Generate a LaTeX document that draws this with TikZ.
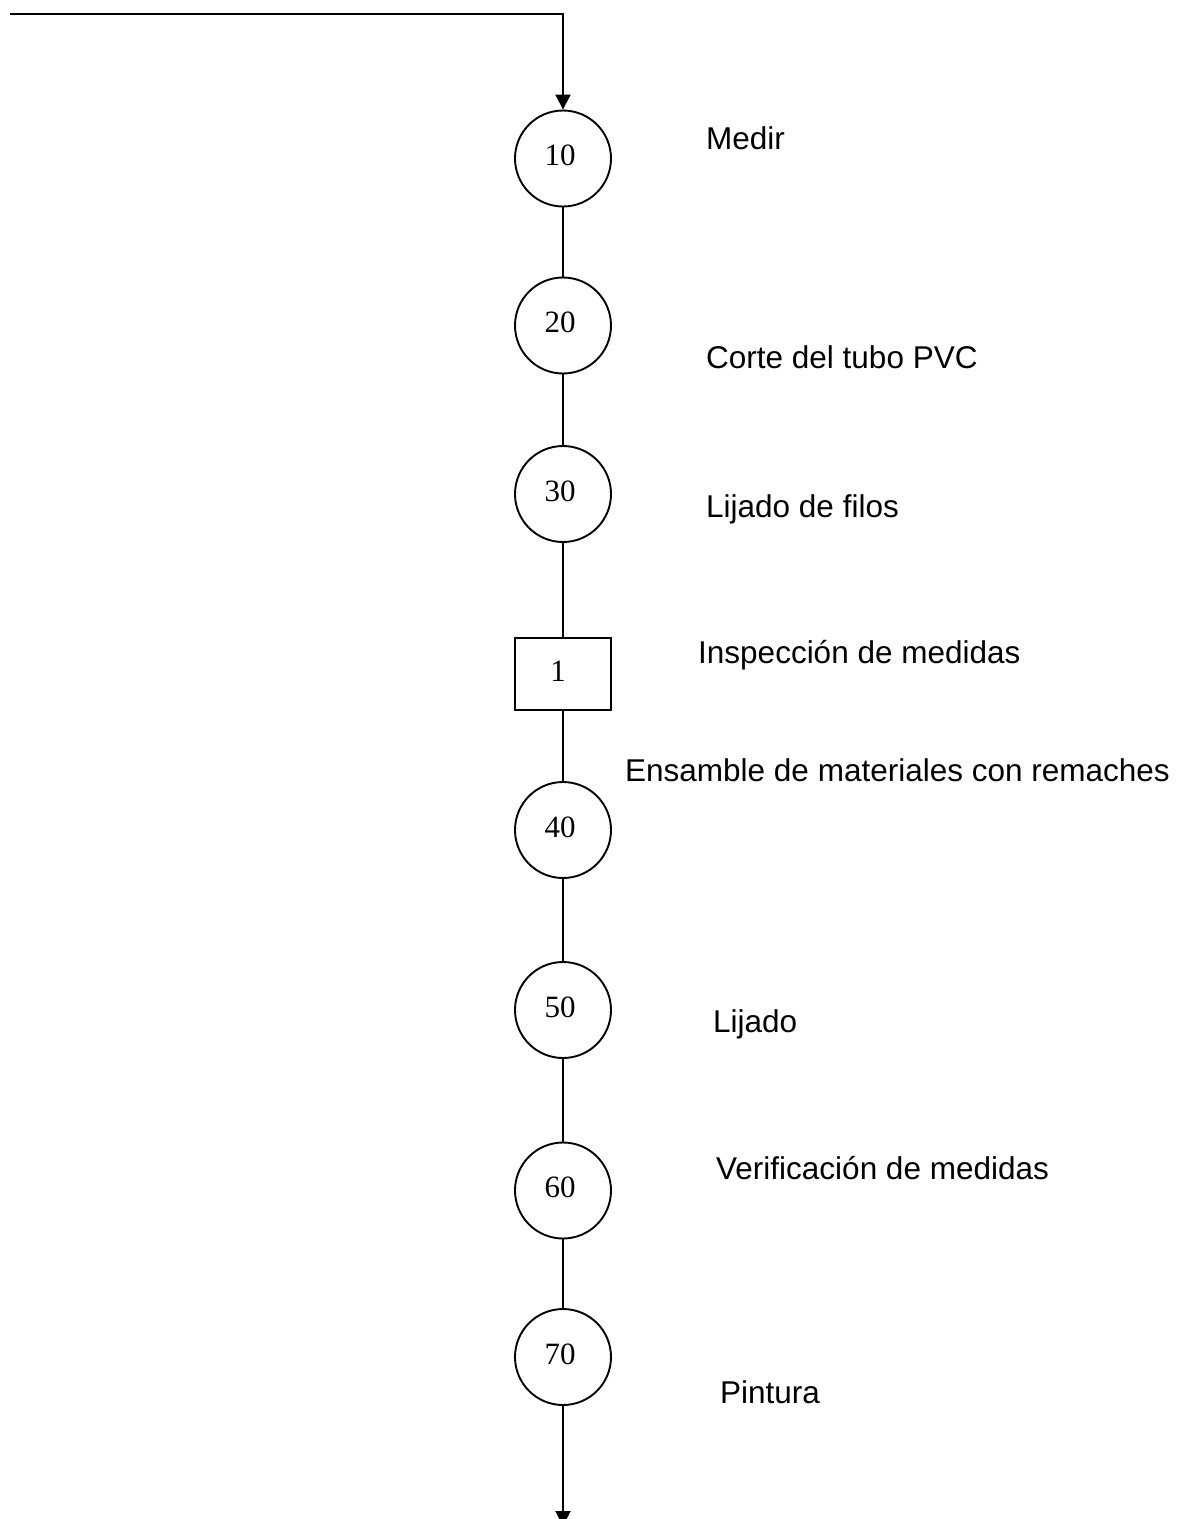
\documentclass[tikz,border=0pt]{standalone}
\usepackage{fontspec}
\setmainfont{Liberation Sans}
\newfontfamily\numfont{Liberation Serif}
\usetikzlibrary{arrows.meta}

\begin{document}
\begin{tikzpicture}[x=1pt,y=-1pt,
  flow/.style={line width=1.9pt,black},
  opcircle/.style={circle,draw,line width=1.9pt,minimum size=96pt,inner sep=0pt},
  inspbox/.style={rectangle,draw,line width=1.9pt,minimum width=96pt,minimum height=72pt,inner sep=0pt},
  numtext/.style={anchor=base,inner sep=0pt,font=\numfont\fontsize{31}{37}\selectfont},
  steptext/.style={anchor=base west,inner sep=0pt,font=\fontsize{31.5}{38}\selectfont},
  tip/.style={-{Triangle[length=15pt,width=15pt]}}
]
\useasboundingbox (0,0) rectangle (1192,1519);

% operation circles and inspection box along the main line
\node[opcircle] (n10) at (563,158.5) {};
\node[opcircle] (n20) at (563,325.5) {};
\node[opcircle] (n30) at (563,494) {};
\node[inspbox]  (i1)  at (563,674) {};
\node[opcircle] (n40) at (563,830) {};
\node[opcircle] (n50) at (563,1010) {};
\node[opcircle] (n60) at (563,1190.5) {};
\node[opcircle] (n70) at (563,1357) {};

% numbers inside the symbols
\node[numtext] (t10) at (560,165) {10};
\node[numtext] (t20) at (560,332) {20};
\node[numtext] (t30) at (560,501) {30};
\node[numtext] (t1)  at (558,681) {1};
\node[numtext] (t40) at (560,837) {40};
\node[numtext] (t50) at (560,1017) {50};
\node[numtext] (t60) at (560,1197) {60};
\node[numtext] (t70) at (560,1364) {70};

% step descriptions
\node[steptext] (d10) at (706,149) {Medir};
\node[steptext] (d20) at (706,368) {Corte del tubo PVC};
\node[steptext] (d30) at (706,517) {Lijado de filos};
\node[steptext] (d1)  at (698,663) {Inspección de medidas};
\node[steptext] (d40) at (625,781) {Ensamble de materiales con remaches};
\node[steptext] (d50) at (713,1032) {Lijado};
\node[steptext] (d60) at (716,1179) {Verificación de medidas};
\node[steptext] (d70) at (720,1403) {Pintura};

% incoming material line and outgoing arrow
\coordinate (start) at (10,14);
\coordinate (corner) at (563,14);
\coordinate (finish) at (563,1526);
\draw[flow,tip] (start) -- (corner) -- (n10.north);
\draw[flow,tip] (n70.south) -- (finish);

% connectors between the steps
\draw[flow] (n10.south) -- (n20.north);
\draw[flow] (n20.south) -- (n30.north);
\draw[flow] (n30.south) -- (i1.north);
\draw[flow] (i1.south) -- (n40.north);
\draw[flow] (n40.south) -- (n50.north);
\draw[flow] (n50.south) -- (n60.north);
\draw[flow] (n60.south) -- (n70.north);
\end{tikzpicture}
\end{document}
